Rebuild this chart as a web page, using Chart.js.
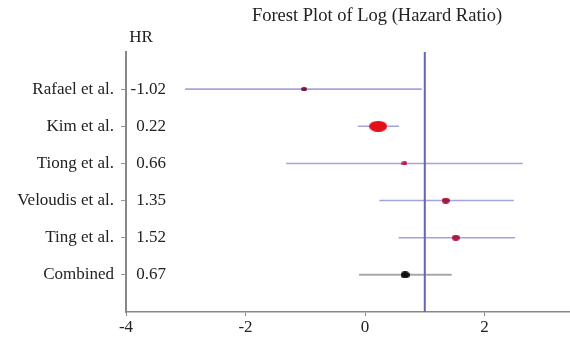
<!DOCTYPE html>
<html>
<head>
<meta charset="utf-8">
<script src="https://cdn.jsdelivr.net/npm/chart.js@4/dist/chart.umd.min.js"></script>
<style>
  html, body { margin: 0; padding: 0; background: #fff; }
  canvas { display: block; }
</style>
</head>
<body>
<canvas id="forest" width="570" height="341"></canvas>
<script>
// Study rows, estimates (log hazard ratio) and 95% CI bounds
const studies = ['Rafael et al.', 'Kim et al.', 'Tiong et al.', 'Veloudis et al.', 'Ting et al.', 'Combined'];
const hr = [-1.02, 0.22, 0.66, 1.35, 1.52, 0.67];
const lower = [-3.01, -0.12, -1.32, 0.24, 0.56, -0.10];
const upper = [0.95, 0.57, 2.64, 2.49, 2.51, 1.45];
const xTicks = [-4, -2, 0, 2];
const refValue = 1;

const FONT = "'Liberation Serif', 'Times New Roman', serif";

// Oval marker for each study estimate
function ovalMarker(w, h, color) {
  const c = document.createElement('canvas');
  c.width = w; c.height = h;
  const g = c.getContext('2d');
  g.fillStyle = color;
  g.beginPath();
  g.ellipse(w / 2, h / 2, w / 2, h / 2, 0, 0, Math.PI * 2);
  g.fill();
  return c;
}

const markerColors = ['#7a1436', '#e3101c', '#c8184a', '#a8173f', '#b01a44', '#111111'];
const markerStyles = [
  ovalMarker(6, 4, markerColors[0]),
  ovalMarker(18, 11, markerColors[1]),
  ovalMarker(6, 4, markerColors[2]),
  ovalMarker(8, 6, markerColors[3]),
  ovalMarker(8, 6, markerColors[4]),
  ovalMarker(9, 7, markerColors[5])
];
const markerRadius = [3, 9, 3, 4, 4, 4.5];

const ciDatasets = studies.map((s, i) => ({
  type: 'line',
  label: s,
  data: [{ x: lower[i], y: i + 1 }, { x: upper[i], y: i + 1 }],
  borderColor: i === studies.length - 1 ? '#a8a8a8' : '#a4a4dc',
  borderWidth: i === studies.length - 1 ? 2 : 1.6,
  pointRadius: 0,
  fill: false
}));

// Text drawn beside the plot: title, HR column header and values
const sidePlugin = {
  id: 'sideText',
  afterDraw(chart) {
    const ctx = chart.ctx;
    const y = chart.scales.y;
    const left = chart.chartArea.left;
    ctx.save();
    ctx.fillStyle = '#222';
    ctx.textBaseline = 'middle';
    ctx.textAlign = 'center';
    ctx.font = '18.5px ' + FONT;
    ctx.fillText('Forest Plot of Log (Hazard Ratio)', 377, 16);
    ctx.font = '17px ' + FONT;
    ctx.fillText('HR', 141, 38);
    ctx.textAlign = 'right';
    hr.forEach((v, i) => {
      ctx.fillText(v.toFixed(2), left + 40, y.getPixelForValue(i + 1));
    });
    ctx.restore();
  }
};

new Chart(document.getElementById('forest'), {
  type: 'scatter',
  data: {
    datasets: [
      {
        label: 'HR',
        data: hr.map((v, i) => ({ x: v, y: i + 1 })),
        pointStyle: markerStyles,
        pointRadius: markerRadius,
        backgroundColor: markerColors,
        borderColor: markerColors,
        borderWidth: 0
      },
      {
        type: 'line',
        label: 'ref',
        data: [{ x: refValue, y: 0 }, { x: refValue, y: studies.length + 1 }],
        borderColor: '#6464b8',
        borderWidth: 2,
        pointRadius: 0,
        fill: false
      },
      ...ciDatasets
    ]
  },
  options: {
    responsive: false,
    animation: false,
    layout: { autoPadding: false, padding: { top: 52, right: 0, left: 0, bottom: 0 } },
    plugins: {
      legend: { display: false },
      tooltip: { enabled: false }
    },
    scales: {
      x: {
        type: 'linear',
        min: -4,
        max: 3.43,
        afterBuildTicks(scale) { scale.ticks = xTicks.map(v => ({ value: v })); },
        afterFit(scale) { scale.height = 29; scale.paddingRight = 0; scale.paddingLeft = 0; },
        ticks: { font: { family: FONT, size: 17 }, color: '#222', padding: 1, callback: v => String(v) },
        grid: { display: true, drawOnChartArea: false, tickLength: 4, color: '#888' },
        border: { display: true, color: '#888', width: 1.5 }
      },
      y: {
        type: 'linear',
        reverse: true,
        min: 0,
        max: studies.length + 1,
        afterBuildTicks(scale) { scale.ticks = studies.map((s, i) => ({ value: i + 1 })); },
        afterFit(scale) { scale.width = 126; scale.paddingTop = 0; scale.paddingBottom = 0; },
        ticks: {
          font: { family: FONT, size: 17 },
          color: '#222',
          padding: 7,
          callback: v => studies[v - 1]
        },
        grid: { display: true, drawOnChartArea: false, tickLength: 5, color: '#999' },
        border: { display: true, color: '#888', width: 2 }
      }
    }
  },
  plugins: [sidePlugin]
});
</script>
</body>
</html>
